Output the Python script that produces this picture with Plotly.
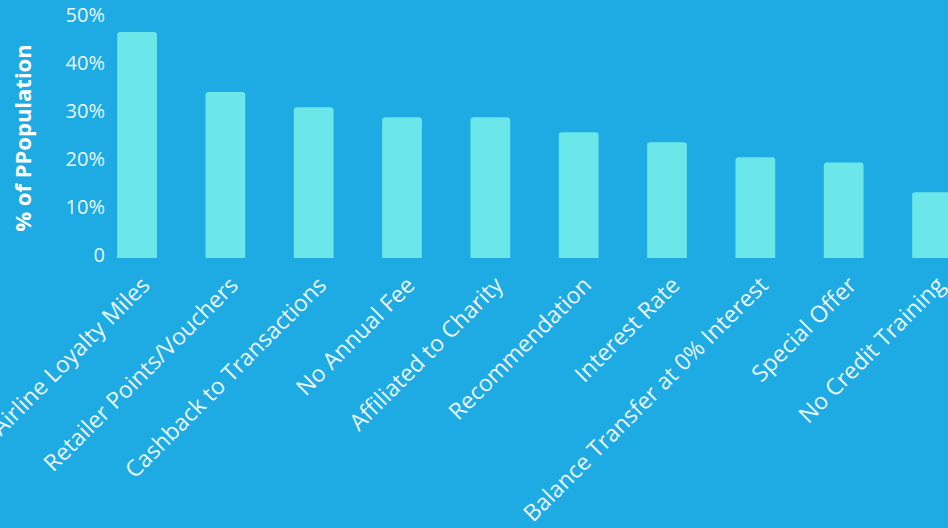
import plotly.graph_objects as go

categories = ["Airline Loyalty Miles", "Retailer Points/Vouchers", "Cashback to Transactions",
              "No Annual Fee", "Affiliated to Charity", "Recommendation", "Interest Rate",
              "Balance Transfer at 0% Interest", "Special Offer", "No Credit Training"]
values = [47.1, 34.6, 31.4, 29.3, 29.3, 26.2, 24.1, 21.0, 19.9, 13.7]
tick_vals = [0, 10, 20, 30, 40, 50]
tick_text = ["0", "10%", "20%", "30%", "40%", "50%"]

BG = "#1EABE3"
BAR = "#6CE7E9"
TXT = "rgba(255,255,255,0.93)"

fig = go.Figure(go.Bar(
    x=list(range(len(categories))), y=values,
    width=0.45,
    marker=dict(color=BAR, line=dict(width=0), cornerradius=3),
    hoverinfo="skip",
))

fig.update_layout(
    width=948, height=528,
    margin=dict(l=110, r=0, t=18, b=270, autoexpand=False),
    paper_bgcolor=BG, plot_bgcolor=BG,
    showlegend=False,
    font=dict(family="Open Sans", color=TXT, size=20),
    xaxis=dict(
        tickmode="array", tickvals=list(range(len(categories))), ticktext=categories,
        tickangle=-45, range=[-0.306, 9.181], automargin=False,
        showgrid=False, zeroline=False, showline=False, ticks="",
        tickfont=dict(size=23, color=TXT),
        ticklabeloverflow="allow", ticklabelstandoff=8, ticklabelshift=6,
    ),
    yaxis=dict(
        range=[0, 50], tickmode="array", tickvals=tick_vals, ticktext=tick_text,
        showgrid=False, zeroline=False, showline=False, ticks="", automargin=False,
        tickfont=dict(size=20, color=TXT),
        ticklabelstandoff=4, ticklabelshift=-3,
        title=dict(text="<b>% of PPopulation</b>", font=dict(size=22, color="white"), standoff=27),
    ),
)

fig.write_html("out.html")
